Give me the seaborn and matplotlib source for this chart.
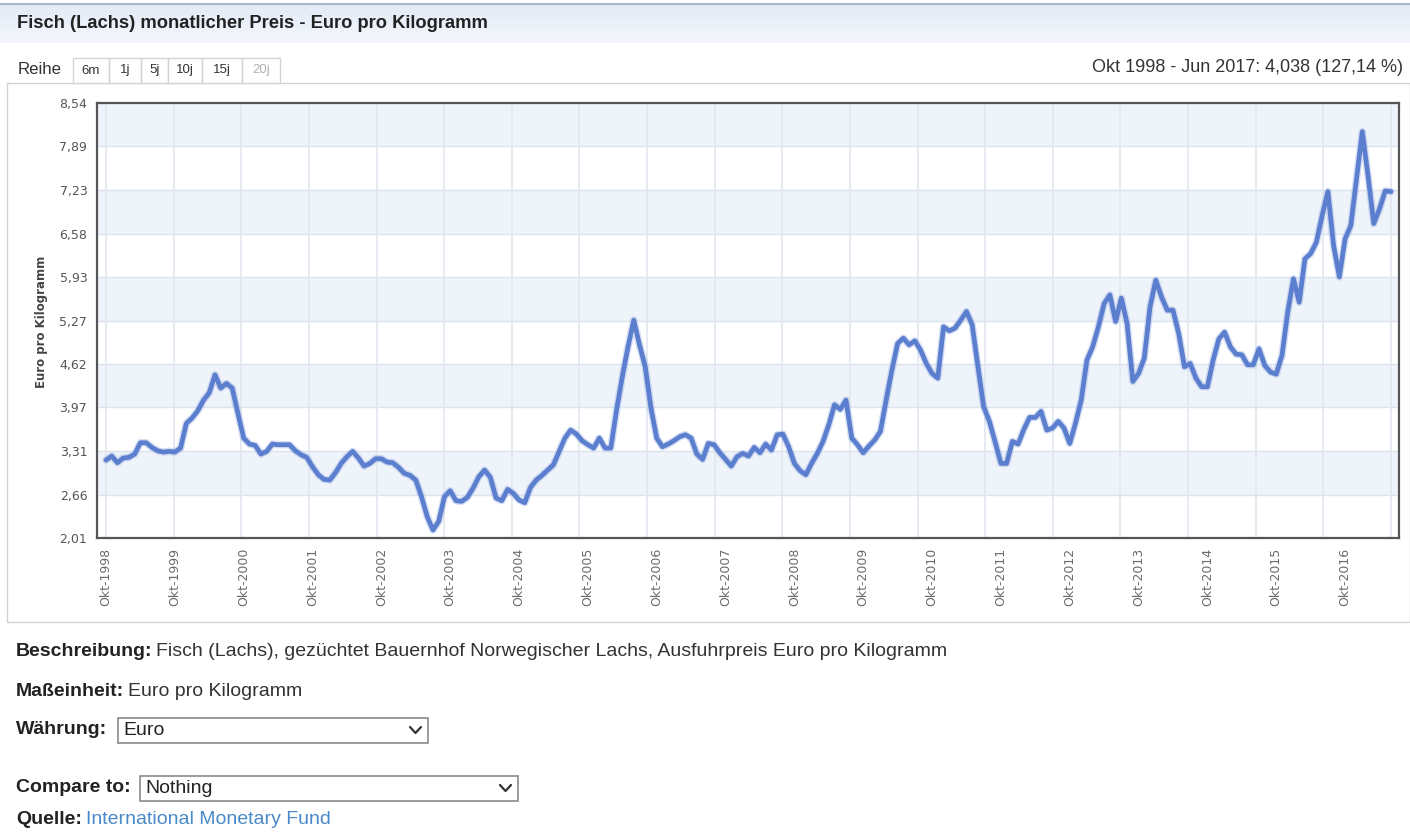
import numpy as np
import pandas as pd
import matplotlib
matplotlib.use("Agg")
import matplotlib.pyplot as plt
import seaborn as sns
from matplotlib.patches import Rectangle
from matplotlib.colors import LinearSegmentedColormap

# ---------------- data ----------------
title = "Fisch (Lachs) monatlicher Preis - Euro pro Kilogramm"
range_summary = "Okt 1998 - Jun 2017: 4,038 (127,14 %)"
series_label = "Reihe"
tab_labels = ["6m", "1j", "5j", "10j", "15j", "20j"]
y_axis_label = "Euro pro Kilogramm"
first_year = 1998
y_tick_values = [2.01, 2.66, 3.31, 3.97, 4.62, 5.27, 5.93, 6.58, 7.23, 7.89, 8.54]

# monthly price, Okt 1998 ... Jun 2017 (Euro pro Kilogramm)
price = [
    3.18, 3.24, 3.14, 3.21, 3.22, 3.27, 3.44, 3.44, 3.37, 3.32, 3.30, 3.31,
    3.30, 3.36, 3.73, 3.81, 3.92, 4.08, 4.19, 4.46, 4.26, 4.33, 4.26, 3.88,
    3.51, 3.42, 3.40, 3.27, 3.31, 3.42, 3.41, 3.41, 3.41, 3.32, 3.26, 3.22,
    3.08, 2.96, 2.89, 2.88, 2.99, 3.13, 3.23, 3.31, 3.21, 3.09, 3.13, 3.20,
    3.20, 3.15, 3.14, 3.07, 2.98, 2.95, 2.88, 2.63, 2.33, 2.13, 2.26, 2.63,
    2.72, 2.57, 2.56, 2.62, 2.76, 2.93, 3.03, 2.92, 2.61, 2.57, 2.74, 2.68,
    2.58, 2.54, 2.77, 2.88, 2.95, 3.03, 3.11, 3.31, 3.51, 3.63, 3.57, 3.47,
    3.41, 3.36, 3.51, 3.36, 3.36, 3.93, 4.43, 4.88, 5.28, 4.91, 4.58, 3.96,
    3.51, 3.38, 3.42, 3.47, 3.53, 3.56, 3.51, 3.27, 3.19, 3.43, 3.41, 3.29,
    3.19, 3.09, 3.23, 3.28, 3.24, 3.37, 3.29, 3.42, 3.33, 3.56, 3.57, 3.38,
    3.13, 3.02, 2.96, 3.13, 3.28, 3.46, 3.71, 4.01, 3.94, 4.08, 3.51, 3.41,
    3.29, 3.39, 3.48, 3.61, 4.08, 4.53, 4.93, 5.01, 4.91, 4.97, 4.83, 4.63,
    4.48, 4.41, 5.18, 5.12, 5.16, 5.28, 5.41, 5.21, 4.58, 3.98, 3.76, 3.45,
    3.13, 3.13, 3.46, 3.42, 3.64, 3.82, 3.82, 3.91, 3.63, 3.66, 3.76, 3.66,
    3.43, 3.73, 4.08, 4.68, 4.88, 5.18, 5.53, 5.66, 5.26, 5.61, 5.23, 4.36,
    4.48, 4.71, 5.48, 5.88, 5.63, 5.43, 5.43, 5.08, 4.58, 4.63, 4.41, 4.28,
    4.28, 4.68, 5.00, 5.10, 4.88, 4.77, 4.76, 4.61, 4.61, 4.85, 4.60, 4.50,
    4.47, 4.75, 5.40, 5.90, 5.55, 6.20, 6.28, 6.45, 6.85, 7.21, 6.40, 5.93,
    6.50, 6.70, 7.40, 8.11, 7.45, 6.73, 6.95, 7.22, 7.21,
]

description_label = "Beschreibung:"
description_text = "Fisch (Lachs), gezüchtet Bauernhof Norwegischer Lachs, Ausfuhrpreis Euro pro Kilogramm"
unit_label = "Maßeinheit:"
unit_text = "Euro pro Kilogramm"
currency_label = "Währung:"
currency_value = "Euro"
compare_label = "Compare to:"
compare_value = "Nothing"
source_label = "Quelle:"
source_text = "International Monetary Fund"

# ---------------- figure ----------------
W, H = 1410, 832
sns.set_theme(style="white")
plt.rcParams["font.family"] = ["Liberation Sans", "DejaVu Sans"]

fig = plt.figure(figsize=(W / 100, H / 100), dpi=100)
fig.patch.set_facecolor("white")
bg = fig.add_axes([0, 0, 1, 1])
bg.axis("off")
renderer = fig.canvas.get_renderer()

# header band
grad = np.linspace(0, 1, 60).reshape(-1, 1)
cmap = LinearSegmentedColormap.from_list("hdr", ["#e3ebf7", "#f4f7fc"])
bg.imshow(grad, extent=[0, W, 43, 5], cmap=cmap, aspect="auto", zorder=0)
bg.plot([0, W], [4, 4], color="#a9b8cc", lw=1.5, zorder=1)
bg.set_xlim(0, W)
bg.set_ylim(H, 0)


def fit(x, y, s, width, ha="left", **kw):
    t = bg.text(x, y, s, ha=ha, va="center", **kw)
    w = t.get_window_extent(renderer).width
    t.set_fontsize(t.get_fontsize() * width / w)
    return t


def pair(x, y, bold, normal, size, bold_color="#222222", normal_color="#333333"):
    t = bg.text(x, y, bold, ha="left", va="center", fontsize=size,
                fontweight="bold", color=bold_color)
    w = t.get_window_extent(renderer).width
    bg.text(x + w + 4, y, normal, ha="left", va="center", fontsize=size,
            color=normal_color)
    return x + w


fit(17, 23, title, 472, fontsize=11, fontweight="bold", color="#222222")

# tabs row
fit(18, 70, series_label, 44, fontsize=10, color="#333333")
tab_edges = [73, 109, 141, 168, 202, 242, 280]
for i, lab in enumerate(tab_labels):
    x0, x1 = tab_edges[i], tab_edges[i + 1]
    bg.add_patch(Rectangle((x0, 58), x1 - x0, 25, facecolor="white",
                           edgecolor="#d3d3d3", lw=1, zorder=2))
    bg.text((x0 + x1) / 2, 70.5, lab, ha="center", va="center", fontsize=9.5,
            color="#b0b0b0" if lab == "20j" else "#333333", zorder=3)
fit(1403, 67, range_summary, 312, ha="right", fontsize=10, color="#333333")

# chart container
bg.add_patch(Rectangle((7, 83), W - 7, 539, facecolor="white",
                       edgecolor="#d2d2d2", lw=1, zorder=1))

# ---------------- main chart ----------------
ax = fig.add_axes([97 / W, 1 - 538 / H, (1399 - 97) / W, (538 - 103) / H])
ax.set_zorder(3)
ax.set_facecolor("white")

df = pd.DataFrame({"month": np.arange(len(price)), "price": price})

for k in range(1, len(y_tick_values) - 1, 2):
    ax.axhspan(y_tick_values[k], y_tick_values[k + 1], color="#eff3fa", lw=0, zorder=0)
for v in y_tick_values:
    ax.axhline(v, color="#dce3ee", lw=1, zorder=1)
for xv in np.linspace(0, len(price) - 1, 20):
    ax.axvline(xv, color="#e2e7ef", lw=1.2, zorder=1)

sns.lineplot(data=df, x="month", y="price", ax=ax, color="#a3b7e6",
             linewidth=5.4, alpha=0.45, zorder=4)
sns.lineplot(data=df, x="month", y="price", ax=ax, color="#5b7fce",
             linewidth=3.4, zorder=5)

xt = np.arange(0, len(price), 12)
ax.set_xticks(xt)
ax.set_xticklabels([f"Okt-{first_year + i}" for i in range(len(xt))],
                   rotation=90, family="DejaVu Sans", fontsize=9, color="#6a6a6a")
ax.set_yticks(y_tick_values)
ax.set_yticklabels([f"{v:.2f}".replace(".", ",") for v in y_tick_values],
                   family="DejaVu Sans", fontsize=9, color="#555555")
ax.tick_params(axis="both", length=0)
ax.tick_params(axis="x", pad=7)
ax.tick_params(axis="y", pad=7)
ax.set_xlim(-1.57, 225.4)
ax.set_ylim(2.01, 8.54)
ax.set_xlabel("")
ax.set_ylabel("")
for sp in ax.spines.values():
    sp.set_visible(True)
    sp.set_color("#555555")
    sp.set_linewidth(1.6)
    sp.set_zorder(6)

bg.text(42, 322, y_axis_label, rotation=90, ha="center", va="center",
        fontsize=8.5, fontweight="bold", color="#444444", family="DejaVu Sans")

# ---------------- description block ----------------
fs = 10.2
t1 = bg.text(16, 652, description_label, ha="left", va="center", fontsize=fs,
             fontweight="bold", color="#222222")
w1 = t1.get_window_extent(renderer).width
t2 = bg.text(16 + w1 + 4, 652, description_text, ha="left", va="center",
             fontsize=fs, color="#333333")
w2 = t2.get_window_extent(renderer).width
scale = (946 - 16) / (w1 + 4 + w2)
fs = fs * scale
t1.remove(); t2.remove()

pair(16, 652, description_label, description_text, fs)
pair(16, 691, unit_label, unit_text, fs)

pair(16, 730, currency_label, "", fs)
bg.add_patch(Rectangle((118, 718), 310, 25, facecolor="white",
                       edgecolor="#8a8a8a", lw=1.2, zorder=2))
bg.text(123, 730.5, currency_value, ha="left", va="center", fontsize=fs,
        color="#222222", zorder=3)
bg.plot([410, 415.5, 421], [727, 733, 727], color="#333333", lw=1.6, zorder=3)

pair(16, 788, compare_label, "", fs)
bg.add_patch(Rectangle((140, 776), 378, 25, facecolor="white",
                       edgecolor="#8a8a8a", lw=1.2, zorder=2))
bg.text(145, 788.5, compare_value, ha="left", va="center", fontsize=fs,
        color="#222222", zorder=3)
bg.plot([500, 505.5, 511], [785, 791, 785], color="#333333", lw=1.6, zorder=3)

pair(16, 819, source_label, source_text, fs, normal_color="#4a8ac8")

bg.set_xlim(0, W)
bg.set_ylim(H, 0)
fig.savefig("out.png", dpi=100, facecolor="white")
